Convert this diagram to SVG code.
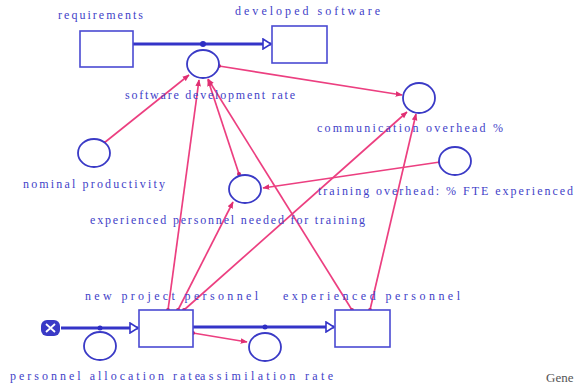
<svg xmlns="http://www.w3.org/2000/svg" width="576" height="385" viewBox="0 0 576 385">
  <style>
    .lbl { font-family: "Liberation Serif", "Times New Roman", serif; font-size: 12px; fill: #4242c8; }
    .stock { fill: #ffffff; stroke: #4a4ad2; stroke-width: 1.6; }
    .conv { fill: #ffffff; stroke: #3a3ac6; stroke-width: 1.8; }
    .pipe { fill: none; stroke: #3434c8; stroke-width: 3; }
    .valve { fill: #2e2ec4; }
    .link { fill: none; stroke: #ec3f80; stroke-width: 1.7; marker-end: url(#tip); marker-start: url(#dot); }
  </style>
  <defs>
    <marker id="tip" viewBox="0 0 10 10" refX="9" refY="5" markerWidth="7" markerHeight="7" markerUnits="userSpaceOnUse" orient="auto">
      <path d="M0,1 L10,5 L0,9 Z" fill="#e02f72"/>
    </marker>
    <marker id="dot" viewBox="0 0 6 6" refX="3" refY="3" markerWidth="4" markerHeight="4" markerUnits="userSpaceOnUse">
      <circle cx="3" cy="3" r="3" fill="#d02468"/>
    </marker>
    <marker id="flowtip" viewBox="0 0 10 12" refX="9" refY="6" markerWidth="10" markerHeight="12" markerUnits="userSpaceOnUse" orient="auto">
      <path d="M1,1 L9,6 L1,11 Z" fill="#ffffff" stroke="#3434c8" stroke-width="1.6"/>
    </marker>
  </defs>

  <rect width="576" height="385" fill="#ffffff"/>

  <!-- flows and information links -->
  <g id="connectors">
    <line class="pipe" x1="133" y1="44" x2="271" y2="44" marker-end="url(#flowtip)"/>
    <line class="pipe" x1="61" y1="328" x2="138" y2="328" marker-end="url(#flowtip)"/>
    <line class="pipe" x1="193" y1="327" x2="334" y2="327" marker-end="url(#flowtip)"/>
    <circle class="valve" cx="203" cy="44" r="3"/>
    <circle class="valve" cx="100" cy="328" r="2.5"/>
    <circle class="valve" cx="265" cy="327" r="2.5"/>

    <path class="link" d="M104,143 L189,75"/>
    <path class="link" d="M219,66 L402,95"/>
    <path class="link" d="M168,310 L199,80"/>
    <path class="link" d="M352,310 L208,79"/>
    <path class="link" d="M239,174 L208,80"/>
    <path class="link" d="M178,310 L233,202"/>
    <path class="link" d="M184,310 L407,112"/>
    <path class="link" d="M370,310 L416,114"/>
    <path class="link" d="M440,162 L263,188"/>
    <path class="link" d="M193,333 L247,342"/>
  </g>

  <!-- stocks -->
  <g id="requirements">
    <rect class="stock" x="80" y="31" width="53" height="36"/>
    <text class="lbl" x="58" y="19" textLength="85" lengthAdjust="spacing">requirements</text>
  </g>
  <g id="developed-software">
    <rect class="stock" x="272" y="26" width="55" height="37"/>
    <text class="lbl" x="235" y="15" textLength="145" lengthAdjust="spacing">developed software</text>
  </g>
  <g id="new-project-personnel">
    <rect class="stock" x="139" y="310" width="54" height="37"/>
    <text class="lbl" x="85" y="300" textLength="173" lengthAdjust="spacing">new project personnel</text>
  </g>
  <g id="experienced-personnel">
    <rect class="stock" x="335" y="310" width="55" height="37"/>
    <text class="lbl" x="283" y="300" textLength="177" lengthAdjust="spacing">experienced personnel</text>
  </g>

  <!-- source cloud -->
  <g id="source">
    <rect x="41" y="320" width="19" height="16" rx="6" fill="#3a3ac6"/>
    <path d="M46,324 L55,332 M55,324 L46,332" stroke="#ffffff" stroke-width="1.8"/>
  </g>

  <!-- rates and auxiliaries -->
  <g id="software-development-rate">
    <ellipse class="conv" cx="203" cy="64" rx="16" ry="14"/>
    <text class="lbl" x="125" y="99" textLength="170" lengthAdjust="spacing">software development rate</text>
  </g>
  <g id="communication-overhead">
    <ellipse class="conv" cx="419" cy="98" rx="16" ry="15"/>
    <text class="lbl" x="317" y="132" textLength="186" lengthAdjust="spacing">communication overhead %</text>
  </g>
  <g id="training-overhead">
    <ellipse class="conv" cx="455" cy="161" rx="16" ry="14"/>
    <text class="lbl" x="318" y="195" textLength="255" lengthAdjust="spacing">training overhead: % FTE experienced</text>
  </g>
  <g id="nominal-productivity">
    <ellipse class="conv" cx="94" cy="153" rx="16" ry="14"/>
    <text class="lbl" x="23" y="188" textLength="142" lengthAdjust="spacing">nominal productivity</text>
  </g>
  <g id="experienced-needed-for-training">
    <ellipse class="conv" cx="245" cy="189" rx="16" ry="14"/>
    <text class="lbl" x="90" y="224" textLength="275" lengthAdjust="spacing">experienced personnel needed for training</text>
  </g>
  <g id="personnel-allocation-rate">
    <ellipse class="conv" cx="100" cy="346" rx="16" ry="14"/>
    <text class="lbl" x="10" y="380" textLength="190" lengthAdjust="spacing">personnel allocation rate</text>
  </g>
  <g id="assimilation-rate">
    <ellipse class="conv" cx="265" cy="347" rx="16" ry="14"/>
    <text class="lbl" x="200" y="380" textLength="133" lengthAdjust="spacing">assimilation rate</text>
  </g>

  <text x="546" y="382" font-family="'Liberation Serif', 'Times New Roman', serif" font-size="13" fill="#555555">Gene</text>
</svg>
